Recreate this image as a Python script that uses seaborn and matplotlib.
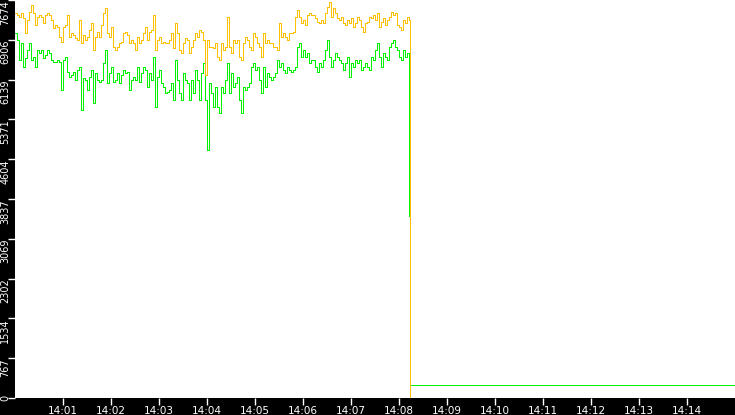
import pandas as pd
import matplotlib
matplotlib.use('Agg')
import matplotlib.pyplot as plt
import matplotlib.dates as mdates
import seaborn as sns

orange_values = [
    7420, 7390, 7350, 7420, 7330, 7040, 7290, 7440, 7580, 7420,
    7190, 7350, 7390, 7350, 7230, 7390, 7420, 7390, 7290, 7130,
    7190, 7150, 6960, 6860, 7150, 7190, 7390, 6960, 7040, 7000,
    6940, 6900, 7290, 6850, 7000, 6900, 6960, 7100, 7230, 6710,
    6960, 7060, 6960, 7190, 7420, 7520, 7040, 6960, 7150, 6770, 6710,
    6770, 6850, 6860, 7040, 7060, 7000, 6850, 6900, 6850, 6710,
    6960, 6850, 6900, 7040, 7150, 6900, 7060, 7100, 7390, 6710,
    6900, 6960, 6850, 6860, 6850, 6850, 6900, 7040, 6750, 7230,
    7040, 6710, 6650, 6850, 6940, 6900, 6650, 6770, 6900, 7040,
    6960, 7100, 7060, 6900, 6230, 6900, 6770, 6770, 6750, 6850,
    6580, 6520, 6850, 6710, 6770, 7350, 6770, 6650, 6900, 6850,
    6900, 6580, 6520, 6850, 6960, 6900, 6770, 6710, 7040, 6960,
    6850, 6770, 6580, 7040, 6850, 6900, 6850, 6850, 6770, 6770,
    6710, 7230, 6960, 7040, 6960, 6900, 7040, 7040, 7060, 7350,
    7480, 7350, 7230, 7290, 7190, 7390, 7420, 7390,
    7390, 7330, 7250, 7230, 7290, 7230, 7420, 7540, 7640, 7350,
    7520, 7420, 7330, 7290, 7350, 7230, 7190, 7290, 7230, 7330,
    7150, 7230, 7350, 7290, 7150, 7060, 7230, 7250, 7350, 7330,
    7390, 7290, 7420, 7150, 7250, 7330, 7190, 7290, 7350, 7440,
    7390, 7420, 7190, 7150, 7100, 7290, 7230, 7350, 7290,
]
green_values = [
    7040, 6900, 6520, 6850, 6380, 6560, 6710, 6850, 6520, 6580,
    6380, 6710, 6650, 6710, 6560, 6610, 6710, 6650, 6520, 6480,
    6480, 6520, 6480, 5940, 6520, 6580, 6290, 6190, 6230, 6290,
    6130, 6320, 6380, 5550, 6170, 6130, 5940, 6190, 6320, 5690,
    6270, 6130, 6090, 6130, 6460, 6710, 6070, 6270, 6380, 6090, 6130,
    6270, 6070, 6230, 6320, 6270, 6290, 5940, 6130, 6190, 6130,
    6380, 6090, 6270, 6380, 6320, 5990, 6270, 6130, 6580, 5610,
    6190, 6320, 6070, 5990, 5880, 5900, 5940, 6070, 5750, 6520,
    6130, 5880, 5750, 6270, 6130, 6070, 5750, 6130, 5880, 6320,
    6130, 5750, 6270, 6460, 5750, 4780, 6070, 5880, 5610, 5990,
    5610, 5500, 6000, 5880, 6130, 6460, 5880, 6270, 6000, 6070,
    6190, 5750, 5500, 6000, 5940, 6000, 6070, 6380, 6460, 6320,
    6380, 6130, 5880, 6380, 6000, 6270, 6190, 6130, 6190, 6270,
    6520, 6380, 6460, 6320, 6270, 6380, 6320, 6290, 6320, 6380,
    6770, 6850, 6580, 6710, 6580, 6650, 6460, 6520,
    6520, 6380, 6290, 6460, 6380, 6520, 6710, 6900, 6580, 6380,
    6520, 6650, 6580, 6520, 6460, 6320, 6460, 6580, 6190, 6460,
    6380, 6520, 6460, 6520, 6320, 6380, 6460, 6380, 6320, 6580,
    6520, 6710, 6850, 6580, 6380, 6650, 6580, 6520, 6770, 6850,
    6900, 6770, 6710, 6580, 6520, 6710, 6580, 6650, 6520,
]
# what happens after the drop (seconds after 14:00)
orange_tail_sec = [493.5]
orange_tail_vals = [0]
green_tail_sec = [493.0, 494.0, 494.3, 900.0]
green_tail_vals = [3500, 120, 250, 250]

y_ticks = [0, 767, 1534, 2302, 3069, 3837, 4604, 5371, 6139, 6906, 7674]

start = pd.Timestamp('2024-01-01 14:00:00')
step = 2.5


def build(values, tail_sec, tail_vals):
    secs = [i * step for i in range(len(values))] + tail_sec
    vals = values + tail_vals
    return pd.DataFrame({'time': start + pd.to_timedelta(secs, unit='s'), 'value': vals})


green_df = build(green_values, green_tail_sec, green_tail_vals)
orange_df = build(orange_values, orange_tail_sec, orange_tail_vals)

fig = plt.figure(figsize=(7.35, 4.15), dpi=100, facecolor='black')
ax = fig.add_axes([15 / 735, 17 / 415, 720 / 735, 398 / 415])
ax.set_facecolor('white')

# 0.72 pt ~ one pixel at 100 dpi, no antialiasing -> crisp 1px lines
sns.lineplot(data=green_df, x='time', y='value', ax=ax, color='#00F000',
             linewidth=0.72, drawstyle='steps-post', estimator=None,
             antialiased=False)
sns.lineplot(data=orange_df, x='time', y='value', ax=ax, color='#FFC000',
             linewidth=0.72, drawstyle='steps-post', estimator=None,
             antialiased=False)

ax.set_xlim(start, start + pd.Timedelta(minutes=15))
ax.set_ylim(0, 7674)
ax.set_xlabel('')
ax.set_ylabel('')

ax.xaxis.set_major_locator(mdates.MinuteLocator(byminute=range(1, 15)))
ax.xaxis.set_major_formatter(mdates.DateFormatter('%H:%M'))
ax.set_yticks(y_ticks)
ax.set_yticklabels([str(v) for v in y_ticks])

for s in ax.spines.values():
    s.set_visible(False)

ax.tick_params(axis='both', colors='white', labelcolor='white', labelsize=7,
               length=5, width=1, direction='out')
ax.tick_params(axis='x', pad=1, labelsize=7.5)
ax.tick_params(axis='y', pad=-1.5)

for lab, v in zip(ax.get_yticklabels(), y_ticks):
    lab.set_rotation(90)
    lab.set_va('center' if v == 0 else 'top')
    lab.set_ha('right')

fig.savefig('out.png', dpi=100, facecolor='black')
